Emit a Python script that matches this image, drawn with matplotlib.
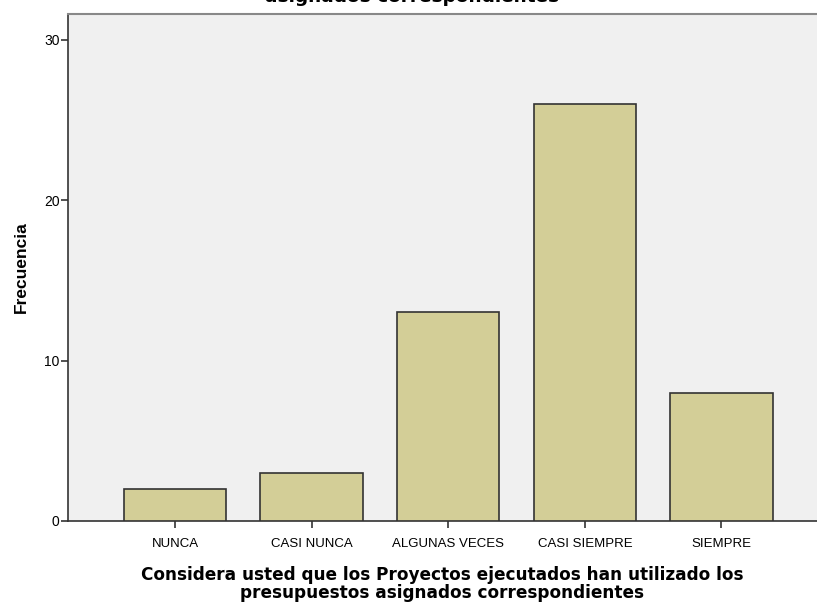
import matplotlib.pyplot as plt

categorias = ["NUNCA", "CASI NUNCA", "ALGUNAS VECES", "CASI SIEMPRE", "SIEMPRE"]
frecuencias = [2, 3, 13, 26, 8]
yticks = [0, 10, 20, 30]

plt.rcParams['font.family'] = ['Liberation Sans', 'DejaVu Sans']

fig = plt.figure(figsize=(8.17, 6.03), dpi=100)
ax = fig.add_axes([68 / 817, 82 / 603, 1 - 68 / 817, (521 - 14) / 603])
ax.set_facecolor('#F0F0F0')

x = range(len(categorias))
ax.bar(x, frecuencias, width=0.75, color='#D3CE97', edgecolor='#333333', linewidth=1.2, zorder=3)

ax.set_xlim(-0.784, 4.70)
ax.set_ylim(0, 31.6)
ax.set_yticks(yticks)
ax.set_xticks(list(x))
ax.set_xticklabels(categorias, fontsize=9.5)
ax.tick_params(axis='y', labelsize=10, length=5, width=1.2, color='#333333', pad=1)
ax.tick_params(axis='x', length=5, width=1.2, color='#333333', pad=7)

for s in ['left', 'bottom']:
    ax.spines[s].set_color('#333333')
    ax.spines[s].set_linewidth(1.2)
ax.spines['top'].set_color('#888888')
ax.spines['top'].set_linewidth(1.5)
ax.spines['right'].set_visible(False)

ax.set_ylabel('Frecuencia', fontsize=12.5, fontweight='bold', labelpad=11)
ax.set_xlabel('Considera usted que los Proyectos ejecutados han utilizado los\npresupuestos asignados correspondientes',
              fontsize=12.2, fontweight='bold', family='DejaVu Sans', labelpad=12, linespacing=0.95)

fig.text(412 / 817, 1 - 2 / 603, 'Considera usted que los Proyectos ejecutados han utilizado los presupuestos\nasignados correspondientes',
         ha='center', va='baseline', fontsize=13.3, fontweight='bold', family='DejaVu Sans', linespacing=1.0)

fig.savefig('out.png', dpi=100)
